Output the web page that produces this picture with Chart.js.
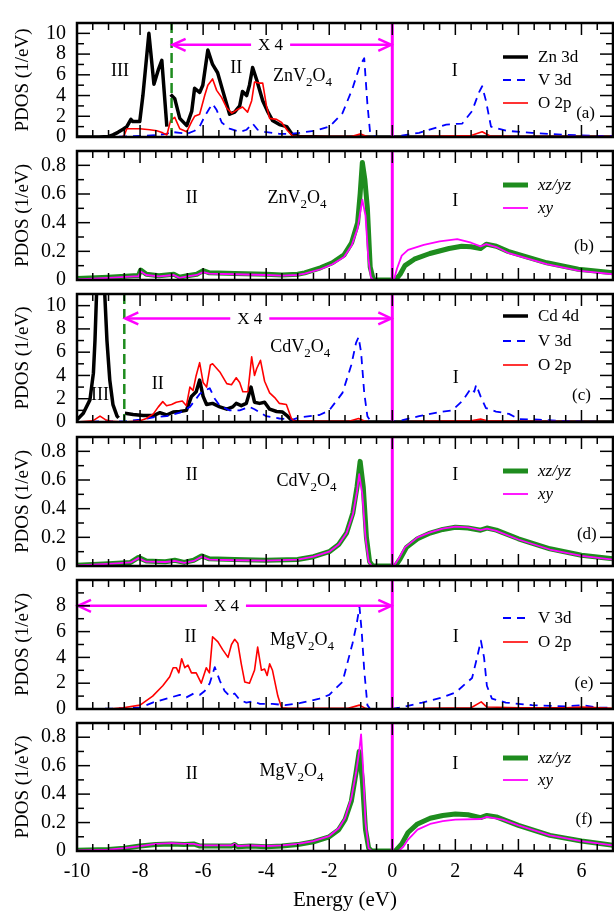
<!DOCTYPE html>
<html>
<head>
<meta charset="utf-8">
<script src="https://cdn.jsdelivr.net/npm/chart.js@4.4.0/dist/chart.umd.min.js"></script>
<style>
  html, body { margin: 0; padding: 0; background: #ffffff; }
  #wrap { position: relative; width: 614px; height: 911px; overflow: hidden; }
  #wrap canvas { position: absolute; left: 0; top: 0; }
</style>
</head>
<body>
<div id="wrap"></div>
<script>
// ============================================================
// PDOS of ZnV2O4 / CdV2O4 / MgV2O4 - six stacked Chart.js panels
// ============================================================

// ---- tick labels ----
const energyTickLabels = [-10, -8, -6, -4, -2, 0, 2, 4, 6];
const pdosTickLabels11 = [0, 2, 4, 6, 8, 10];
const pdosTickLabels10 = [0, 2, 4, 6, 8];
const orbTickLabels = [0, 0.2, 0.4, 0.6, 0.8];

// ---- (a) ZnV2O4 : [energy eV, PDOS] (x4 right of -7) ----
const znZn3d = [[-10,0],[-9.3,0],[-9.0,0.05],[-8.86,0.2],[-8.7,0.45],[-8.54,0.75],[-8.42,1.0],[-8.29,1.7],[-8.23,1.5],[-8.01,1.5],
  [-7.91,4.0],[-7.72,10.0],[-7.56,5.1],[-7.42,6.5],[-7.31,7.4],[-7.15,1.0],[-7.1,null],[-7.03,4.1],[-6.9,3.7],[-6.74,1.8],
  [-6.52,1.1],[-6.36,2.5],[-6.27,4.7],[-6.11,4.3],[-6.01,5.0],[-5.85,8.4],[-5.7,7.0],[-5.54,6.2],[-5.38,4.5],[-5.16,2.2],
  [-5.0,2.4],[-4.84,3.0],[-4.75,4.4],[-4.62,4.0],[-4.53,5.0],[-4.43,6.7],[-4.3,5.5],[-4.11,3.5],[-3.96,2.5],[-3.8,1.6],
  [-3.58,1.2],[-3.35,1.0],[-3.16,0.2],[-2.94,0.05],[-2,0],[7,0]];
const znV3d = [[-10,0],[-9,0],[-8.4,0.05],[-8.0,0.1],[-7.47,0.2],[-7.15,0.3],[-7.03,0.5],[-6.74,0.4],[-6.52,0.3],[-6.27,0.6],
  [-6.11,1.0],[-5.95,2.0],[-5.79,2.8],[-5.7,3.2],[-5.57,2.6],[-5.41,1.4],[-5.16,0.8],[-4.84,0.5],[-4.62,0.7],[-4.43,1.3],
  [-4.27,0.7],[-4.05,0.5],[-3.58,0.3],[-3.26,0.3],[-2.94,0.4],[-2.47,0.6],[-1.99,1.0],[-1.58,2.3],[-1.26,4.7],[-1.04,6.8],
  [-0.89,7.6],[-0.79,3.2],[-0.7,0.3],[-0.51,0],[0,0],[0.22,0.1],[0.85,0.4],[1.71,1.2],[2.22,1.3],[2.53,2.5],[2.75,4.3],
  [2.85,4.9],[2.97,3.5],[3.13,1.0],[3.61,0.6],[4.43,0.4],[5.5,0.2],[6.55,0.1],[7,0.1]];
const znO2p = [[-10,0],[-8.6,0],[-8.51,0.1],[-8.42,0.8],[-8.01,0.8],[-7.69,0.7],[-7.47,0.6],[-7.28,0.4],[-7.15,0.2],[-7.03,1.6],
  [-6.9,1.9],[-6.74,0.8],[-6.52,0.5],[-6.36,1.5],[-6.27,2.0],[-6.11,2.2],[-5.95,4.0],[-5.85,5.0],[-5.7,5.6],[-5.57,4.5],
  [-5.41,3.8],[-5.25,2.8],[-5.09,2.3],[-4.94,2.6],[-4.75,2.9],[-4.59,2.4],[-4.46,3.5],[-4.37,5.3],[-4.21,5.2],[-4.11,5.2],
  [-3.99,3.0],[-3.89,1.8],[-3.67,1.7],[-3.51,1.4],[-3.32,0.6],[-3.16,0.1],[-2.94,0.05],[-1.3,0.05],[-1.0,0.3],[-0.85,0.1],
  [-0.7,0],[0,0],[1,0.05],[2.5,0.15],[2.85,0.5],[3.1,0.1],[4,0.05],[7,0.05]];

// ---- (b) ZnV2O4 t2g orbitals ----
const znXZ = [[-10,0.01],[-9,0.02],[-8.2,0.03],[-8.05,0.03],[-7.98,0.07],[-7.8,0.04],[-7.4,0.03],[-6.93,0.04],[-6.75,0.02],
  [-6.5,0.03],[-6.2,0.04],[-6.0,0.065],[-5.8,0.05],[-5.0,0.045],[-4.0,0.04],[-3.5,0.035],[-3.0,0.04],[-2.78,0.05],
  [-2.28,0.085],[-1.9,0.12],[-1.53,0.175],[-1.29,0.26],[-1.1,0.4],[-1.02,0.6],[-0.95,0.82],[-0.87,0.7],[-0.79,0.5],
  [-0.7,0.09],[-0.6,0],[0.1,0],[0.25,0.04],[0.4,0.1],[0.7,0.145],[1.19,0.185],[1.8,0.22],[2.2,0.235],[2.5,0.232],
  [2.8,0.22],[2.98,0.25],[3.3,0.235],[3.67,0.2],[4.9,0.12],[5.9,0.075],[7,0.05]];
const znXY = [[-10,0.005],[-9,0.015],[-8.2,0.025],[-8.05,0.025],[-7.98,0.06],[-7.8,0.035],[-7.4,0.025],[-6.93,0.035],
  [-6.75,0.015],[-6.5,0.025],[-6.2,0.035],[-6.0,0.055],[-5.8,0.045],[-5.0,0.04],[-4.0,0.035],[-3.5,0.03],[-3.0,0.035],
  [-2.78,0.045],[-2.28,0.075],[-1.9,0.11],[-1.53,0.16],[-1.29,0.24],[-1.1,0.36],[-0.95,0.56],[-0.85,0.45],[-0.76,0.15],
  [-0.68,0.02],[-0.6,0],[0.05,0],[0.15,0.08],[0.3,0.17],[0.5,0.21],[1.0,0.245],[1.5,0.27],[2.06,0.285],[2.5,0.26],
  [2.8,0.235],[2.98,0.25],[3.3,0.23],[3.67,0.19],[4.9,0.11],[5.9,0.065],[7,0.04]];

// ---- (c) CdV2O4 (x4 right of -8.5) ----
const cdCd4d = [[-10,0.2],[-9.8,0.75],[-9.59,1.9],[-9.48,4.2],[-9.43,7.0],[-9.38,11],[-9.25,16],[-9.12,11],[-9.05,7.0],
  [-8.96,3.6],[-8.86,1.5],[-8.73,0.5],[-8.68,0.35],[-8.6,null],[-8.48,0.75],[-8.22,0.65],[-7.9,0.55],[-7.58,0.55],
  [-7.37,0.8],[-7.16,0.6],[-6.95,0.85],[-6.74,0.9],[-6.53,1.0],[-6.37,2.2],[-6.22,2.6],[-6.11,3.6],[-6.0,2.2],[-5.89,1.5],
  [-5.7,1.6],[-5.47,1.3],[-5.25,1.1],[-5.06,1.3],[-4.95,1.6],[-4.79,1.4],[-4.63,1.6],[-4.48,3.0],[-4.37,1.7],[-4.21,1.6],
  [-4.05,1.7],[-3.89,1.1],[-3.67,0.9],[-3.48,0.85],[-3.32,0.5],[-3.16,0.05],[-2.9,0],[7,0]];
const cdV3d = [[-10,0],[-9.3,0.05],[-8.5,0.05],[-8.0,0.2],[-7.58,0.4],[-7.16,0.5],[-6.74,0.8],[-6.42,1.3],[-6.22,2.0],
  [-6.11,2.4],[-5.95,2.7],[-5.79,2.9],[-5.63,2.0],[-5.47,1.4],[-5.16,1.0],[-4.84,1.0],[-4.53,1.3],[-4.37,1.1],[-4.0,0.5],
  [-3.58,0.3],[-3.16,0.2],[-2.94,0.4],[-2.31,0.6],[-2.0,1.0],[-1.58,2.5],[-1.3,4.9],[-1.15,6.8],[-1.07,7.3],[-0.99,6.0],
  [-0.89,2.5],[-0.79,0.5],[-0.67,0],[0,0],[0.22,0.1],[0.85,0.5],[1.49,0.86],[1.9,1.0],[2.22,1.8],[2.5,2.9],[2.6,2.6],
  [2.66,3.2],[2.8,2.2],[2.97,1.2],[3.29,0.9],[3.7,0.7],[4.02,0.25],[4.65,0.2],[5.28,0.1],[5.9,0.05],[6.55,0],[7,0]];
const cdO2p = [[-10,0],[-9.5,0.1],[-9.27,0.5],[-9.1,0.2],[-8.9,0.05],[-8.5,0],[-8.0,0.1],[-7.8,0.3],[-7.58,0.7],[-7.42,1.3],
  [-7.28,1.75],[-7.16,1.4],[-7.0,1.5],[-6.85,1.7],[-6.66,1.8],[-6.53,1.4],[-6.42,3.0],[-6.32,2.7],[-6.22,4.0],[-6.11,5.1],
  [-6.0,3.4],[-5.89,3.0],[-5.77,4.9],[-5.7,5.0],[-5.47,4.3],[-5.25,3.3],[-5.1,3.2],[-4.95,3.8],[-4.84,3.4],[-4.74,2.6],
  [-4.58,2.6],[-4.46,5.6],[-4.37,4.0],[-4.3,4.6],[-4.18,5.3],[-4.05,3.5],[-3.89,2.5],[-3.73,2.1],[-3.58,1.6],[-3.36,1.5],
  [-3.2,0.3],[-3.1,0.05],[-1.4,0.05],[-1.07,0.3],[-0.85,0.05],[-0.7,0],[0,0],[1,0.05],[2.5,0.1],[2.8,0.25],[3.0,0.1],
  [4,0.05],[7,0.02]];

// ---- (d) CdV2O4 t2g orbitals ----
const cdXZ = [[-10,0.005],[-9,0.015],[-8.3,0.025],[-8.05,0.06],[-7.8,0.035],[-7.2,0.03],[-6.9,0.04],[-6.6,0.025],[-6.3,0.04],
  [-6.05,0.07],[-5.8,0.05],[-5.0,0.045],[-4.0,0.04],[-3.0,0.045],[-2.5,0.065],[-2.0,0.1],[-1.7,0.15],[-1.45,0.23],
  [-1.25,0.37],[-1.12,0.55],[-1.02,0.73],[-0.92,0.55],[-0.82,0.2],[-0.72,0.03],[-0.62,0],[0.1,0],[0.25,0.05],[0.45,0.13],
  [0.8,0.19],[1.2,0.23],[1.6,0.255],[2.0,0.27],[2.4,0.265],[2.8,0.25],[3.0,0.265],[3.3,0.25],[4.0,0.19],[5.0,0.12],
  [6.0,0.075],[7,0.05]];
const cdXY = [[-10,0.005],[-9,0.015],[-8.3,0.025],[-8.05,0.055],[-7.8,0.03],[-7.2,0.028],[-6.9,0.035],[-6.6,0.022],
  [-6.3,0.035],[-6.05,0.065],[-5.8,0.045],[-5.0,0.04],[-4.0,0.038],[-3.0,0.045],[-2.5,0.065],[-2.0,0.1],[-1.7,0.15],
  [-1.45,0.23],[-1.25,0.36],[-1.12,0.52],[-1.05,0.64],[-0.95,0.5],[-0.85,0.2],[-0.75,0.03],[-0.65,0],[0.05,0],[0.2,0.05],
  [0.4,0.13],[0.8,0.2],[1.2,0.235],[1.6,0.26],[2.0,0.275],[2.4,0.27],[2.8,0.25],[3.0,0.26],[3.3,0.245],[4.0,0.185],
  [5.0,0.115],[6.0,0.07],[7,0.045]];

// ---- (e) MgV2O4 (whole range x4) ----
const mgV3d = [[-10,0],[-9,0.02],[-8.5,0.05],[-8.0,0.1],[-7.6,0.5],[-7.16,0.8],[-6.74,1.1],[-6.53,0.9],[-6.3,1.2],[-6.1,1.1],
  [-5.95,1.4],[-5.79,2.0],[-5.63,3.25],[-5.47,2.2],[-5.32,1.4],[-5.16,1.0],[-5.0,1.2],[-4.84,0.7],[-4.63,0.5],[-4.42,0.6],
  [-4.2,0.4],[-3.8,0.4],[-3.4,0.3],[-2.94,0.45],[-2.31,0.8],[-2.0,1.1],[-1.58,2.1],[-1.26,5.1],[-1.13,6.6],[-1.04,7.9],
  [-0.97,6.0],[-0.89,3.0],[-0.79,0.3],[-0.7,0],[0,0],[0.22,0.1],[0.95,0.5],[1.58,0.9],[2.02,1.3],[2.34,2.0],[2.53,2.4],
  [2.69,4.0],[2.81,5.3],[2.91,4.0],[3.0,1.8],[3.16,0.8],[3.6,0.5],[4.43,0.3],[5.5,0.2],[6.0,0.3],[6.55,0.1],[7,0.1]];
const mgO2p = [[-10,0],[-9,0],[-8.54,0.1],[-8.0,0.3],[-7.6,1.0],[-7.28,1.8],[-7.06,2.5],[-6.95,3.2],[-6.85,3.2],[-6.77,2.8],
  [-6.68,3.9],[-6.58,3.2],[-6.48,3.4],[-6.37,2.8],[-6.22,2.8],[-6.06,2.0],[-5.9,3.2],[-5.8,2.8],[-5.7,5.6],[-5.53,5.2],
  [-5.38,4.6],[-5.21,4.0],[-5.1,5.0],[-5.0,5.4],[-4.9,5.1],[-4.79,3.5],[-4.68,2.1],[-4.53,2.0],[-4.37,3.0],[-4.27,4.8],
  [-4.15,3.0],[-4.05,3.1],[-3.97,2.6],[-3.89,3.5],[-3.8,3.0],[-3.63,1.0],[-3.51,0.1],[-3.3,0.05],[-1.4,0.05],[-1.04,0.3],
  [-0.85,0.05],[-0.75,0],[0.2,0],[1,0.05],[2.5,0.1],[2.82,0.55],[3.0,0.15],[4,0.1],[5.5,0.1],[6.0,0.15],[7,0.05]];

// ---- (f) MgV2O4 t2g orbitals ----
const mgXZ = [[-10,0.005],[-9,0.01],[-8.5,0.02],[-8,0.035],[-7.5,0.045],[-7,0.05],[-6.6,0.045],[-6.3,0.05],[-6.1,0.035],
  [-5.5,0.035],[-5.1,0.035],[-5.0,0.045],[-4.9,0.03],[-4.5,0.035],[-4.0,0.03],[-3.5,0.035],[-3.0,0.045],[-2.5,0.065],
  [-2.0,0.1],[-1.7,0.15],[-1.5,0.22],[-1.3,0.35],[-1.15,0.55],[-1.05,0.7],[-0.95,0.5],[-0.85,0.15],[-0.75,0.02],[-0.65,0],
  [0.1,0],[0.3,0.05],[0.5,0.13],[0.8,0.19],[1.2,0.23],[1.6,0.25],[2.0,0.26],[2.4,0.255],[2.8,0.235],[3.0,0.25],[3.3,0.24],
  [4,0.18],[5,0.11],[6,0.07],[7,0.04]];
const mgXY = [[-10,0.005],[-9,0.01],[-8.5,0.02],[-8,0.035],[-7.5,0.05],[-7,0.055],[-6.6,0.05],[-6.3,0.05],[-6.1,0.04],
  [-5.5,0.04],[-5.1,0.04],[-5.0,0.05],[-4.9,0.035],[-4.5,0.04],[-4.0,0.035],[-3.5,0.04],[-3.0,0.05],[-2.5,0.07],
  [-2.0,0.105],[-1.7,0.16],[-1.5,0.23],[-1.3,0.37],[-1.15,0.55],[-1.05,0.7],[-0.99,0.82],[-0.93,0.6],[-0.85,0.2],
  [-0.75,0.02],[-0.65,0],[0.2,0],[0.35,0.03],[0.5,0.08],[0.8,0.15],[1.2,0.19],[1.6,0.21],[2.0,0.22],[2.8,0.225],
  [3.0,0.24],[3.5,0.22],[4.0,0.18],[5,0.11],[6,0.07],[7,0.04]];

// ------------------------------------------------------------
// styles
// ------------------------------------------------------------
const SERIF = '"Liberation Serif", "Times New Roman", serif';
const COL = { black: '#000000', blue: '#0000ff', red: '#ff0000', green: '#1e8c1e', magenta: '#ff00ff' };

const STYLE = {
  metal: { borderColor: COL.black, borderWidth: 3.5, order: 2 },
  v3d:   { borderColor: COL.blue, borderWidth: 1.8, borderDash: [8, 6], order: 1 },
  o2p:   { borderColor: COL.red, borderWidth: 1.6, order: 0 },
  xz:    { borderColor: COL.green, borderWidth: 5, order: 1 },
  xy:    { borderColor: COL.magenta, borderWidth: 1.8, order: 0 }
};

// panel layout (pixels of the plot area) and annotations
const panels = [
  { top: 8, bottom: 137, yMax: 11, yStep: 1, yLabels: pdosTickLabels11,
    series: [['Zn 3d', znZn3d, 'metal'], ['V 3d', znV3d, 'v3d'], ['O 2p', znO2p, 'o2p']],
    legendRows: [34, 57, 80],
    notes: [[-8.64, 6.3, 'III'], [-4.95, 6.6, 'II'], [-2.85, 5.9, 'ZnV_2O_4'], [1.98, 6.3, 'I'], [6.13, 2.3, '(a)']],
    dashX: -7, arrow: { from: -7, to: 0, y: 8.9, textX: -3.86 } },
  { top: 151, bottom: 280, yMax: 0.9, yStep: 0.1, yLabels: orbTickLabels, italic: true,
    series: [['xz/yz', znXZ, 'xz'], ['xy', znXY, 'xy']],
    legendRows: [34, 57],
    notes: [[-6.36, 0.57, 'II'], [-3.02, 0.57, 'ZnV_2O_4'], [2.0, 0.55, 'I'], [6.08, 0.233, '(b)']] },
  { top: 294, bottom: 422, yMax: 11, yStep: 1, yLabels: pdosTickLabels11,
    series: [['Cd 4d', cdCd4d, 'metal'], ['V 3d', cdV3d, 'v3d'], ['O 2p', cdO2p, 'o2p']],
    legendRows: [22, 47, 71],
    notes: [[-9.27, 2.3, 'III'], [-7.44, 3.2, 'II'], [-2.92, 6.4, 'CdV_2O_4'], [2.01, 3.75, 'I'], [6.0, 2.3, '(c)']],
    dashX: -8.5, arrow: { from: -8.5, to: 0, y: 8.9, textX: -4.52 } },
  { top: 437, bottom: 566, yMax: 0.9, yStep: 0.1, yLabels: orbTickLabels, italic: true,
    series: [['xz/yz', cdXZ, 'xz'], ['xy', cdXY, 'xy']],
    legendRows: [34, 57],
    notes: [[-6.36, 0.63, 'II'], [-2.72, 0.59, 'CdV_2O_4'], [2.0, 0.63, 'I'], [6.17, 0.22, '(d)']] },
  { top: 580, bottom: 709, yMax: 10, yStep: 1, yLabels: pdosTickLabels10,
    series: [['V 3d', mgV3d, 'v3d'], ['O 2p', mgO2p, 'o2p']],
    legendRows: [38, 62],
    notes: [[-6.4, 5.56, 'II'], [-2.86, 5.3, 'MgV_2O_4'], [2.01, 5.56, 'I'], [6.08, 2.0, '(e)']],
    arrow: { from: -10, to: 0, y: 8.0, textX: -5.26 } },
  { top: 723, bottom: 851, yMax: 0.9, yStep: 0.1, yLabels: orbTickLabels, italic: true, last: true,
    series: [['xz/yz', mgXZ, 'xz'], ['xy', mgXY, 'xy']],
    legendRows: [35, 57],
    notes: [[-6.36, 0.54, 'II'], [-3.2, 0.56, 'MgV_2O_4'], [2.0, 0.61, 'I'], [6.08, 0.22, '(f)']] }
];

function isIn(list, v) {
  return list.some(l => Math.abs(l - v) < 1e-6);
}

function fmtY(v) {
  if (Math.abs(v) < 1e-9) return '0';
  return Number.isInteger(Math.round(v * 1000) / 1000) ? String(Math.round(v)) : v.toFixed(1);
}

function line(ctx, x1, y1, x2, y2) {
  ctx.beginPath();
  ctx.moveTo(x1, y1);
  ctx.lineTo(x2, y2);
  ctx.stroke();
}

// text with "_" marking a one-character subscript, centred at (x, y)
function drawRich(ctx, str, x, y, size) {
  const parts = [];
  for (let i = 0; i < str.length; i++) {
    if (str[i] === '_') { parts.push({ t: str[i + 1], sub: true }); i++; }
    else parts.push({ t: str[i], sub: false });
  }
  const subSize = Math.round(size * 0.72);
  let w = 0;
  parts.forEach(p => {
    ctx.font = (p.sub ? subSize : size) + 'px ' + SERIF;
    p.w = ctx.measureText(p.t).width;
    w += p.w;
  });
  let cx = x - w / 2;
  ctx.textAlign = 'left';
  ctx.textBaseline = 'middle';
  parts.forEach(p => {
    ctx.font = (p.sub ? subSize : size) + 'px ' + SERIF;
    ctx.fillText(p.t, cx, p.sub ? y + size * 0.35 : y);
    cx += p.w;
  });
}

// frame, inward ticks, reference lines, arrow, labels and legend
function makeDecorPlugin(cfg) {
  return {
    id: 'decor',
    afterDatasetsDraw(chart) {
      const { ctx, chartArea: a } = chart;
      const xs = chart.scales.x, ys = chart.scales.y;
      ctx.save();

      // Fermi level
      ctx.strokeStyle = COL.magenta;
      ctx.lineWidth = 3;
      const x0 = xs.getPixelForValue(0);
      line(ctx, x0, a.top, x0, a.bottom);

      // x4 boundary
      if (cfg.dashX != null) {
        const xd = xs.getPixelForValue(cfg.dashX);
        ctx.strokeStyle = COL.green;
        ctx.lineWidth = 2.5;
        ctx.setLineDash([10, 5]);
        line(ctx, xd, a.top, xd, a.bottom);
        ctx.setLineDash([]);
      }

      // "X 4" double arrow
      if (cfg.arrow) {
        const ar = cfg.arrow;
        const y = ys.getPixelForValue(ar.y);
        const x1 = xs.getPixelForValue(ar.from) + 1;
        const x2 = xs.getPixelForValue(ar.to) - 1;
        const xt = xs.getPixelForValue(ar.textX);
        ctx.font = '17px ' + SERIF;
        const half = ctx.measureText('X 4').width / 2 + 7;
        ctx.strokeStyle = COL.magenta;
        ctx.lineWidth = 2.5;
        line(ctx, x1, y, xt - half, y);
        line(ctx, xt + half, y, x2, y);
        ctx.beginPath();
        ctx.moveTo(x1 + 13, y - 6); ctx.lineTo(x1, y); ctx.lineTo(x1 + 13, y + 6);
        ctx.moveTo(x2 - 13, y - 6); ctx.lineTo(x2, y); ctx.lineTo(x2 - 13, y + 6);
        ctx.stroke();
        ctx.fillStyle = '#000';
        ctx.textAlign = 'center';
        ctx.textBaseline = 'middle';
        ctx.fillText('X 4', xt, y + 1);
      }

      // frame and inward ticks on all four sides
      ctx.strokeStyle = '#000';
      ctx.lineWidth = 1.5;
      xs.ticks.forEach(t => {
        const px = xs.getPixelForValue(t.value);
        const major = Math.abs(t.value / 2 - Math.round(t.value / 2)) < 1e-6;
        const len = major ? 12 : 7;
        line(ctx, px, a.bottom, px, a.bottom - len);
        line(ctx, px, a.top, px, a.top + len);
      });
      ys.ticks.forEach(t => {
        const py = ys.getPixelForValue(t.value);
        const len = isIn(cfg.yLabels, t.value) ? 13 : 7;
        line(ctx, a.left, py, a.left + len, py);
        line(ctx, a.right, py, a.right - len, py);
      });
      ctx.lineWidth = 2.5;
      ctx.strokeRect(a.left, a.top, a.right - a.left, a.bottom - a.top);

      // region / compound labels
      ctx.fillStyle = '#000';
      cfg.notes.forEach(n => {
        const size = n[2].startsWith('(') ? 17 : 18;
        drawRich(ctx, n[2], xs.getPixelForValue(n[0]), ys.getPixelForValue(n[1]), size);
      });

      // legend
      chart.data.datasets.forEach((ds, i) => {
        const y = a.top + cfg.legendRows[i];
        ctx.strokeStyle = ds.borderColor;
        ctx.lineWidth = ds.borderWidth;
        ctx.setLineDash(ds.borderDash || []);
        line(ctx, 503, y, 528, y);
        ctx.setLineDash([]);
        ctx.fillStyle = '#000';
        ctx.font = (cfg.italic ? 'italic ' : '') + '17px ' + SERIF;
        ctx.textAlign = 'left';
        ctx.textBaseline = 'middle';
        ctx.fillText(ds.label, 538, y + 1);
      });
      ctx.restore();
    }
  };
}

function buildPanel(cfg) {
  const canvas = document.createElement('canvas');
  canvas.width = 614;
  canvas.height = 911;
  document.getElementById('wrap').appendChild(canvas);

  const datasets = cfg.series.map(s => Object.assign({
    label: s[0],
    data: s[1].map(p => ({ x: p[0], y: p[1] })),
    pointRadius: 0,
    tension: 0,
    fill: false,
    spanGaps: false,
    borderJoinStyle: 'round',
    clip: 0
  }, STYLE[s[2]]));

  return new Chart(canvas.getContext('2d'), {
    type: 'line',
    data: { datasets: datasets },
    options: {
      responsive: false,
      animation: false,
      devicePixelRatio: 1,
      events: [],
      layout: { padding: { top: cfg.top, left: 0, right: 1, bottom: 0 } },
      plugins: {
        legend: { display: false },
        tooltip: { enabled: false }
      },
      scales: {
        x: {
          type: 'linear',
          min: -10,
          max: 7,
          // tick marks are drawn by the decor plugin; tickLength only spaces the labels
          grid: { display: false, drawTicks: true, tickLength: 9 },
          border: { display: false },
          ticks: {
            stepSize: 0.5,
            autoSkip: false,
            maxRotation: 0,
            padding: 0,
            color: '#000',
            font: { family: SERIF, size: 20 },
            callback: v => (cfg.last && isIn(energyTickLabels, v)) ? String(v) : ''
          },
          title: {
            display: !!cfg.last,
            text: 'Energy (eV)',
            color: '#000',
            font: { family: SERIF, size: 21, lineHeight: 1 },
            padding: 0
          },
          afterFit: s => { s.height = 911 - cfg.bottom; }
        },
        y: {
          type: 'linear',
          min: 0,
          max: cfg.yMax,
          grid: { display: false, drawTicks: false },
          border: { display: false },
          ticks: {
            stepSize: cfg.yStep,
            autoSkip: false,
            padding: 11,
            color: '#000',
            font: { family: SERIF, size: 20 },
            callback: v => isIn(cfg.yLabels, v) ? fmtY(v) : ''
          },
          title: {
            display: true,
            text: 'PDOS (1/eV)',
            color: '#000',
            font: { family: SERIF, size: 19 },
            padding: { top: 12, bottom: 0 }
          },
          afterFit: s => { s.width = 77; }
        }
      }
    },
    plugins: [makeDecorPlugin(cfg)]
  });
}

panels.forEach(buildPanel);
</script>
</body>
</html>
